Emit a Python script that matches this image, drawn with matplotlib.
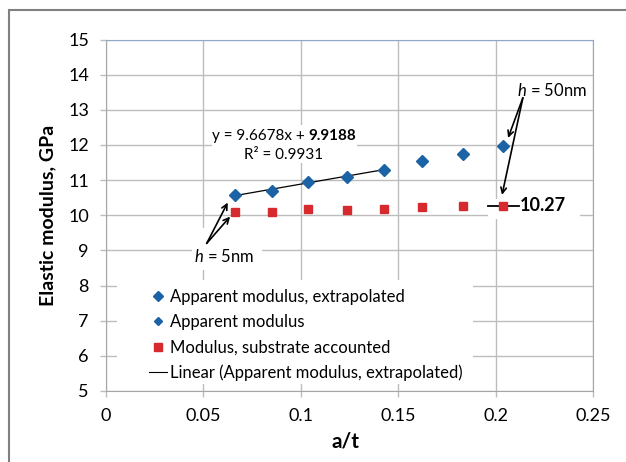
import numpy as np
import matplotlib
matplotlib.use("Agg")
import matplotlib.pyplot as plt
from matplotlib.patches import Rectangle
from matplotlib.lines import Line2D
from matplotlib.offsetbox import TextArea, HPacker, VPacker, AnnotationBbox

plt.rcParams['font.family'] = ['Lato', 'DejaVu Sans']
plt.rcParams['mathtext.fontset'] = 'custom'
plt.rcParams['mathtext.rm'] = 'Lato'
plt.rcParams['mathtext.it'] = 'Lato:italic'
plt.rcParams['mathtext.bf'] = 'Lato:bold'

# a/t ratio for each indentation depth (h = 5 ... 50 nm)
a_t = [0.0662, 0.0851, 0.1039, 0.1236, 0.1429, 0.1624, 0.1832, 0.2036]
apparent = [10.58, 10.70, 10.94, 11.10, 11.30, 11.54, 11.74, 11.97]
substrate = [10.10, 10.09, 10.17, 10.16, 10.19, 10.24, 10.25, 10.27]
n_fit = 5                      # points used for the extrapolation
slope, intercept, r2 = 9.6678, 9.9188, 0.9931
final_modulus = 10.27

x_ticks = [0, 0.05, 0.1, 0.15, 0.2, 0.25]
x_tick_labels = ['0', '0.05', '0.1', '0.15', '0.2', '0.25']
y_ticks = list(range(5, 16))

BLUE = '#1c63a6'
RED = '#d62a2e'
GRID = '#bdbdbd'

fig = plt.figure(figsize=(6.26, 4.62), dpi=100)
ax = fig.add_axes([0.1693, 0.1537, 0.778, 0.7608])

# outer chart border
fig.patches.append(Rectangle((8.5 / 626, -0.5), 1.5, 1.5 - 9.5 / 462, transform=fig.transFigure,
                             fill=False, edgecolor='#808080', linewidth=1.5))

ax.set_xlim(0, 0.25)
ax.set_ylim(5, 15)
ax.set_xticks(x_ticks)
ax.set_xticklabels(x_tick_labels)
ax.set_yticks(y_ticks)
ax.grid(True, color=GRID, linewidth=1.0)
ax.set_axisbelow(True)
ax.tick_params(length=4.3, width=1.0, color=GRID, pad=8.0, labelsize=13)
for side in ['left', 'bottom']:
    ax.spines[side].set_color('#a6a6a6')
for side in ['top', 'right']:
    ax.spines[side].set_color('#8fa9cc')

xs = np.array(a_t)
ys = np.array(apparent)

ax.plot(xs[:n_fit], ys[:n_fit], 'D', color=BLUE, markersize=6.3, zorder=5)
ax.plot(xs[n_fit:], ys[n_fit:], 'D', color=BLUE, markersize=6.3, zorder=5)
ax.plot(xs, substrate, 's', color=RED, markersize=5.6, zorder=5)

# linear trendline over the extrapolated points
x_fit = np.array([xs[0], xs[n_fit - 1]])
ax.plot(x_fit, slope * x_fit + intercept, color='black', linewidth=0.9, zorder=4)

# white boxes behind the annotations
for (x0, y0, w, h) in [(0.0544, 11.49, 0.0745, 1.08),
                       (0.0441, 8.44, 0.036, 1.20),
                       (0.196, 9.90, 0.0473, 0.55)]:
    ax.add_patch(Rectangle((x0, y0), w, h, facecolor='white', edgecolor='none', zorder=2))

# trendline equation
eq_line = HPacker(children=[TextArea('y = 9.6678x + ', textprops=dict(fontsize=11)),
                            TextArea(f'{intercept:.4f}', textprops=dict(fontsize=11, fontweight='bold'))],
                  align='baseline', pad=0, sep=0)
r2_line = TextArea(f'R² = {r2:.4f}', textprops=dict(fontsize=11))
eq_box = VPacker(children=[eq_line, r2_line], align='center', pad=0, sep=3.5)
ax.add_artist(AnnotationBbox(eq_box, (0.0914, 11.98), frameon=False, zorder=6))

arrow = dict(arrowstyle='->', color='black', lw=1.2, shrinkA=0, shrinkB=0)
ax.text(0.0606, 8.82, '$h$ = 5nm', fontsize=12, ha='center', va='center', zorder=6)
ax.annotate('', xy=(0.0625, 10.36), xytext=(0.0517, 9.20), arrowprops=arrow, zorder=6)
ax.annotate('', xy=(0.0637, 9.96), xytext=(0.0517, 9.20), arrowprops=arrow, zorder=6)

ax.text(0.229, 13.55, '$h$ = 50nm', fontsize=12, ha='center', va='center', zorder=6)
ax.annotate('', xy=(0.2064, 12.20), xytext=(0.214, 13.34), arrowprops=arrow, zorder=6)
ax.annotate('', xy=(0.2033, 10.58), xytext=(0.214, 13.34), arrowprops=arrow, zorder=6)

ax.plot([0.1961, 0.2120], [final_modulus, final_modulus], color='black', linewidth=1.3, zorder=4)
ax.text(0.2125, final_modulus, f'{final_modulus:.2f}', fontsize=13, fontweight='bold',
        ha='left', va='center', zorder=6)

# legend on a white panel
ax.add_patch(Rectangle((0.0226, 0.02), 0.731, 0.296, transform=ax.transAxes,
                       facecolor='white', edgecolor='none', zorder=2))
handles = [
    Line2D([], [], linestyle='none', marker='D', color=BLUE, markersize=5.5),
    Line2D([], [], linestyle='none', marker='D', color=BLUE, markersize=4.5),
    Line2D([], [], linestyle='none', marker='s', color=RED, markersize=6.0),
    Line2D([], [], color='black', linewidth=0.8),
]
labels = ['Apparent modulus, extrapolated', 'Apparent modulus',
          'Modulus, substrate accounted', 'Linear (Apparent modulus, extrapolated)']
leg = ax.legend(handles, labels, loc='upper left', bbox_to_anchor=(0.088, 0.29),
                frameon=False, fontsize=12, borderpad=0, borderaxespad=0,
                handlelength=1.1, handletextpad=0.15, labelspacing=0.55)
leg.set_zorder(6)

fig.text(48 / 626, 1 - 215 / 462, 'Elastic modulus, GPa', rotation=90, fontsize=14,
         fontweight='bold', ha='center', va='center')
fig.text(345 / 626, 1 - 441.7 / 462, 'a/t', fontsize=15, fontweight='bold',
         ha='center', va='center')

fig.savefig('out.png', dpi=100)
